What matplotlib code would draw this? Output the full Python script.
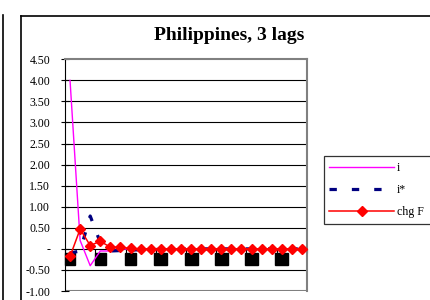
import matplotlib
matplotlib.use("Agg")
import matplotlib.pyplot as plt
from matplotlib.lines import Line2D

# Data
periods = list(range(1, 25))
i_vals = [4.00, 0.20, -0.40, -0.05, -0.05, 0.00, -0.01, 0.00, 0.00, 0.00,
          0.00, 0.00, 0.00, 0.00, 0.00, 0.00, 0.00, 0.00, 0.00, 0.00,
          0.00, 0.00, 0.00, 0.00]
i_star_vals = [-0.10, -0.05, 0.78, 0.15, -0.05, -0.04, -0.03, -0.02, -0.02, -0.01,
               -0.01, -0.01, 0.00, 0.00, 0.00, 0.00, 0.00, 0.00, 0.00, 0.00,
               0.00, 0.00, 0.00, 0.00]
chg_f_vals = [-0.18, 0.47, 0.08, 0.18, 0.04, 0.04, 0.01, 0.00, 0.00, 0.00,
              0.00, 0.00, 0.00, 0.00, 0.00, 0.00, 0.00, 0.00, 0.00, 0.00,
              0.00, 0.00, 0.00, 0.00]
y_ticks = [-1.0, -0.5, 0.0, 0.5, 1.0, 1.5, 2.0, 2.5, 3.0, 3.5, 4.0, 4.5]
y_tick_labels = ["-1.00", "-0.50", "-", "0.50", "1.00", "1.50", "2.00",
                 "2.50", "3.00", "3.50", "4.00", "4.50"]
x_tick_periods = [1, 4, 7, 10, 13, 16, 19, 22]

plt.rcParams["font.family"] = ["Liberation Serif", "DejaVu Serif"]

W, H = 430, 300
fig = plt.figure(figsize=(W / 100, H / 100), dpi=100)

# plot area in pixel coordinates
left, right, top, bottom = 65, 307, 59.3, 291
ax = fig.add_axes([left / W, 1 - bottom / H, (right - left) / W, (bottom - top) / H])

x = [p - 0.5 for p in periods]

ax.plot(x, i_vals, color="#ff00ff", lw=1.0, label="i", zorder=3)
ax.plot(x, i_star_vals, color="#000080", lw=2.3, dashes=(2.3, 4.7),
        label="i*", zorder=3)
ax.plot(x, chg_f_vals, color="#ff0000", lw=1.1, marker="D", markersize=5.2,
        label="chg F", zorder=4)

ax.set_xlim(0, len(periods))
ax.set_ylim(-1.0, 4.5)

for y in y_ticks[1:-1]:
    if y != 0:
        ax.axhline(y, color="black", lw=0.8, zorder=1)
ax.axhline(-1.0, color="#808080", lw=1.5, zorder=1)

ax.set_yticks(y_ticks)
ax.set_yticklabels(y_tick_labels, fontsize=8.6)
ax.tick_params(axis="y", length=6, width=0.8, direction="inout", pad=7.6)

# category axis crosses at zero
ax.spines["bottom"].set_position(("data", 0))
ax.spines["bottom"].set_linewidth(0.8)
ax.spines["left"].set_linewidth(0.8)
ax.spines["top"].set_color("#808080")
ax.spines["top"].set_linewidth(1.5)
ax.spines["right"].set_color("#808080")
ax.spines["right"].set_linewidth(1.5)

ax.set_xticks([p - 0.5 for p in x_tick_periods])
ax.set_xticklabels([f"{p:>2}" for p in x_tick_periods], fontsize=6.5, color="black")
ax.tick_params(axis="x", length=0, pad=4.5)
for lbl in ax.get_xticklabels():
    lbl.set_bbox(dict(facecolor="black", edgecolor="black", pad=1.4))
ax.set_xticks(range(0, len(periods) + 1, 3), minor=True)
ax.tick_params(axis="x", which="minor", length=3, width=0.8, direction="out")

fig.text(229 / W, 1 - 36 / H, "Philippines, 3 lags", ha="center", va="center",
         fontsize=14, fontweight="bold")

leg = fig.legend(loc="upper left",
                 bbox_to_anchor=(323.5 / W, 1 - 156 / H - 0.01, (445 - 323.5) / W, 0.01),
                 mode="expand",
                 fontsize=8.6, frameon=True, fancybox=False, edgecolor="black",
                 handlelength=5.4, handletextpad=0.25, labelspacing=0.85,
                 borderpad=0.5, borderaxespad=0)
leg.get_frame().set_linewidth(0.9)

# outer chart borders
fig.add_artist(Line2D([2.5 / W, 2.5 / W], [0, 1 - 15 / H], color="black", lw=1.2))
fig.add_artist(Line2D([21 / W, 21 / W], [0, 1 - 16 / H], color="black", lw=1.2))
fig.add_artist(Line2D([21 / W, 1], [1 - 16 / H, 1 - 16 / H], color="black", lw=1.2))

fig.savefig("out.png", dpi=100)
